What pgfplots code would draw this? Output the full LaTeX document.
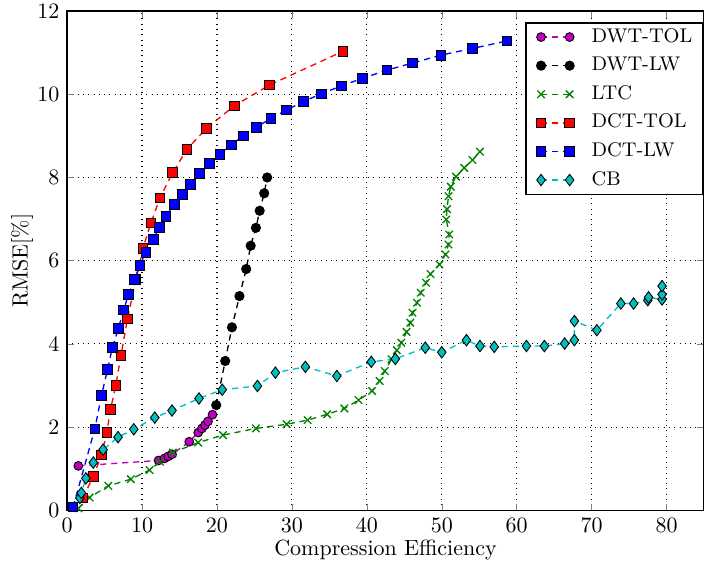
\documentclass[border=0pt]{standalone}
\usepackage{pgfplots}
\pgfplotsset{compat=1.18}
\definecolor{mmag}{rgb}{0.75,0,0.75}
\definecolor{mgreen}{rgb}{0,0.5,0}
\definecolor{mcyan}{rgb}{0,0.75,0.75}
\begin{document}
\begin{tikzpicture}
\begin{axis}[
  scale only axis,
  width=289.5pt, height=227pt,
  xmin=0, xmax=85, ymin=0, ymax=12,
  xtick={0,10,...,80}, ytick={0,2,...,12},
  grid=major,
  major grid style={black, dotted, line width=0.5pt},
  tick align=inside,
  major tick length=3pt,
  axis line style={line width=0.7pt},
  xlabel={Compression Efficiency},
  ylabel={RMSE[\%]},
  xlabel style={yshift=3.5pt},
  ylabel style={yshift=-5pt},
  legend style={at={(1,0.978)}, anchor=north east, draw=black, line width=0.7pt,
    inner xsep=2pt, inner ysep=0pt, row sep=0pt, font=\small, cells={anchor=west},
    nodes={inner xsep=3pt, inner ysep=1.75pt, text height=7pt, text depth=2.5pt},
    /tikz/every odd column/.append style={column sep=4.8pt}},
  legend image code/.code={\path (-4.6pt,0pt); \draw plot coordinates {(0pt,0pt) (13pt,0pt)};},
  every axis plot/.append style={line width=0.6pt, dash pattern=on 2.8pt off 2.2pt},
]
% DWT-TOL
\addplot[color=mmag, mark=*, mark size=2pt, mark options={solid, fill=mmag, draw=black, line width=0.4pt}] coordinates {
(1.5,1.07) (12.2,1.20) (13.0,1.25) (13.5,1.30) (14.0,1.35) (16.3,1.65) (17.5,1.87) (18.0,1.97) (18.4,2.05) (18.8,2.14) (19.4,2.30)
};
\addlegendentry{DWT-TOL}
% DWT-LW
\addplot[color=black, mark=*, mark size=2pt, mark options={solid, fill=black, draw=black}] coordinates {
(19.9,2.53) (21.1,3.59) (22.0,4.40) (23.0,5.15) (23.9,5.80) (24.5,6.36) (25.2,6.79) (25.7,7.20) (26.3,7.62) (26.7,8.00)
};
\addlegendentry{DWT-LW}
% LTC
\addplot[color=mgreen, mark=x, mark size=2.4pt, mark options={solid, line width=0.6pt}] coordinates {
(1.5,0.05) (3.0,0.31) (5.5,0.59) (8.5,0.75) (11.0,0.97) (12.4,1.17) (14.1,1.39) (17.5,1.63) (20.8,1.81) (25.2,1.97) (29.3,2.07)
(32.1,2.17) (34.7,2.31) (37.0,2.45) (38.9,2.65) (40.7,2.87) (41.7,3.11) (42.4,3.35) (43.3,3.63) (44.0,3.85) (44.6,4.03)
(45.3,4.29) (45.8,4.51) (46.1,4.75) (46.7,4.99) (47.2,5.23) (47.9,5.47) (48.5,5.68) (49.7,5.91) (50.5,6.15) (50.9,6.39)
(51.0,6.63) (50.6,6.99) (50.7,7.24) (50.9,7.55) (51.2,7.78) (51.9,8.02) (53.0,8.23) (54.1,8.42) (55.1,8.62)
};
\addlegendentry{LTC}
% DCT-TOL
\addplot[color=red, mark=square*, mark size=2.2pt, mark options={solid, fill=red, draw=black, line width=0.4pt}] coordinates {
(2.1,0.30) (3.5,0.82) (4.6,1.33) (5.3,1.88) (5.8,2.43) (6.5,3.01) (7.2,3.73) (8.05,4.60) (9.2,5.55) (10.1,6.29)
(11.2,6.91) (12.4,7.51) (14.1,8.12) (16.0,8.68) (18.6,9.18) (22.3,9.72) (27.0,10.22) (36.8,11.03)
};
\addlegendentry{DCT-TOL}
% DCT-LW
\addplot[color=blue, mark=square*, mark size=2.2pt, mark options={solid, fill=blue, draw=black, line width=0.4pt}] coordinates {
(0.8,0.08) (3.7,1.96) (4.6,2.77) (5.4,3.39) (6.05,3.92) (6.85,4.38) (7.55,4.82) (8.2,5.19) (9.0,5.55) (9.7,5.89)
(10.5,6.20) (11.5,6.51) (12.3,6.80) (13.2,7.07) (14.3,7.35) (15.4,7.60) (16.5,7.84) (17.7,8.09) (19.0,8.33) (20.4,8.56)
(21.9,8.78) (23.5,9.00) (25.3,9.21) (27.2,9.42) (29.3,9.62) (31.5,9.82) (33.9,10.01) (36.6,10.20) (39.4,10.38) (42.7,10.58)
(46.1,10.75) (49.9,10.94) (54.1,11.10) (58.7,11.28)
};
\addlegendentry{DCT-LW}
% CB
\addplot[color=mcyan, mark=diamond*, mark size=2.6pt, mark options={solid, fill=mcyan, draw=black, line width=0.4pt}] coordinates {
(1.7,0.30) (1.9,0.42) (2.5,0.77) (3.5,1.15) (4.8,1.46) (6.8,1.76) (8.9,1.95) (11.7,2.23) (14.0,2.40) (17.6,2.69)
(20.7,2.90) (25.4,2.99) (27.8,3.31) (31.8,3.45) (36.0,3.23) (40.6,3.57) (43.8,3.64) (47.8,3.91) (50.0,3.80) (53.3,4.09)
(55.1,3.95) (57.0,3.93) (61.3,3.95) (63.7,3.95) (66.4,4.01) (67.7,4.09) (67.7,4.55) (70.7,4.33) (73.9,4.97) (75.6,4.97)
(77.5,5.05) (77.6,5.12) (79.4,5.07) (79.4,5.19) (79.4,5.39)
};
\addlegendentry{CB}
\end{axis}
\pgfresetboundingbox
\useasboundingbox ([xshift=-30.5pt,yshift=-24.4pt]current axis.south west) rectangle ([yshift=5pt]current axis.north east);
\end{tikzpicture}
\end{document}
